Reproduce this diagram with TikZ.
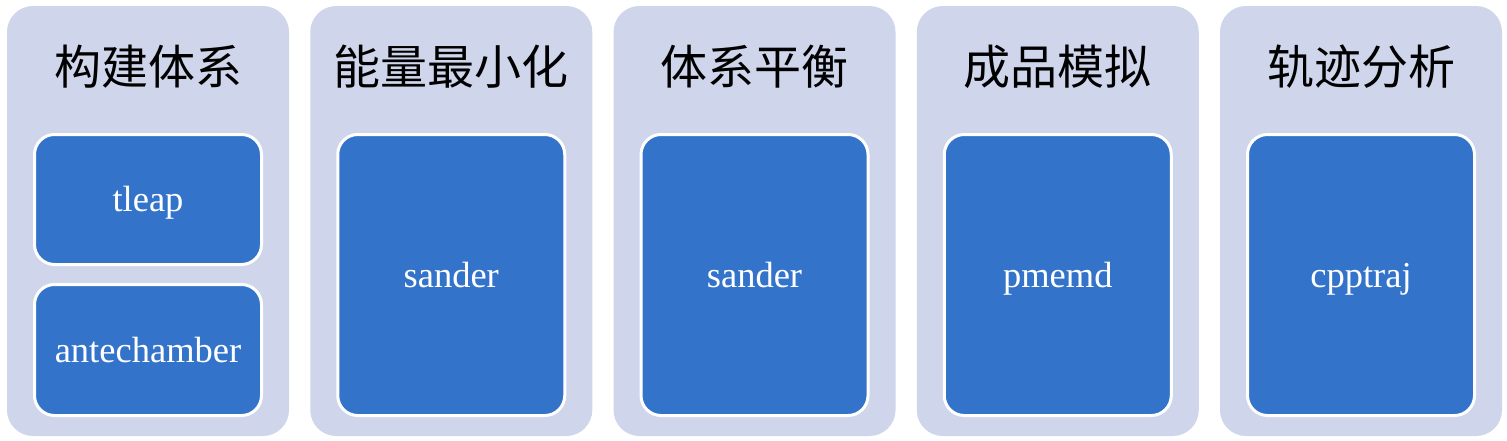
\documentclass[tikz,border=0pt]{standalone}
\usepackage{fontspec}
\setmainfont{Liberation Serif}
\newfontfamily\cjk{Noto Sans CJK SC}
\definecolor{panelfill}{HTML}{CFD5EB}
\definecolor{boxfill}{HTML}{3473CA}
\tikzset{
  panel/.style={fill=panelfill, draw=none, rounded corners=26pt, minimum width=282pt, minimum height=430pt, inner sep=0pt},
  title/.style={font=\cjk\fontsize{47}{52}\selectfont, text=black, inner sep=0pt},
  tool/.style={fill=boxfill, draw=white, line width=3pt, rounded corners=20pt, minimum width=227pt, text=white, font=\fontsize{36.5}{40}\selectfont, inner sep=0pt, text height=32pt, text depth=8pt},
}
\begin{document}
\begin{tikzpicture}[x=1pt,y=-1pt]
\useasboundingbox (0,0) rectangle (1507,440);
\fill[white] (0,0) rectangle (1507,440);
\foreach \i/\t in {0/构建体系,1/能量最小化,2/体系平衡,3/成品模拟,4/轨迹分析}{
  \pgfmathsetmacro{\cx}{148+303.25*\i}
  \node[panel] (p\i) at (\cx,221) {};
  \node[title] (t\i) at (\cx,67) {\t};
}
\node[tool, minimum height=130pt] (tleap) at (148,199.5) {tleap};
\node[tool, minimum height=131pt] (ante) at (148,350) {antechamber};
\node[tool, minimum height=281pt] (s1) at (451.25,275) {sander};
\node[tool, minimum height=281pt] (s2) at (754.5,275) {sander};
\node[tool, minimum height=281pt] (pm) at (1057.75,275) {pmemd};
\node[tool, minimum height=281pt] (cpp) at (1361,275) {cpptraj};
\end{tikzpicture}
\end{document}
